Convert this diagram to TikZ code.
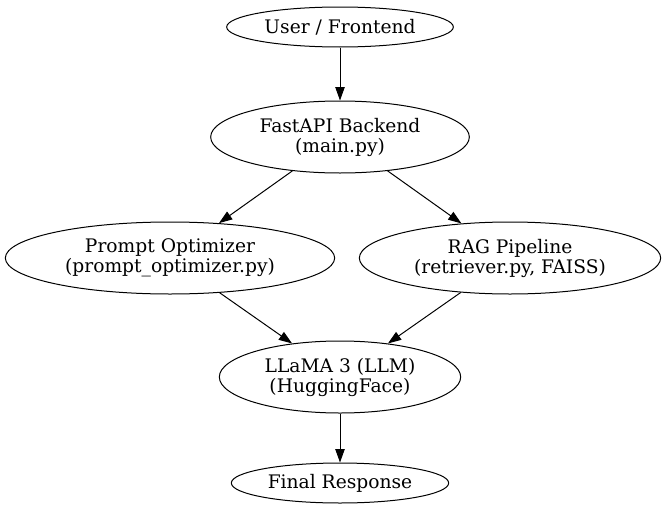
\documentclass[tikz,border=0pt]{standalone}
\usepackage{fontspec}
\setmainfont{DejaVu Serif}
\usetikzlibrary{shapes.geometric,arrows.meta}

\tikzset{
	part/.style = {draw, ellipse, line width = 0.75pt, inner sep = 0pt, align = center,
		font = \fontsize{14}{15}\selectfont},
	flow/.style = {line width = 0.75pt, -{Triangle[length = 10pt, width = 7pt]}}
}

\begin{document}
\begin{tikzpicture}[x = 0.75pt, y = -0.75pt]
		\useasboundingbox (0, 0) rectangle (667, 514);
		%\draw[gray, dotted] (0, 0) grid[step = 50] (667, 514);
		\node[part, minimum width = 170pt, minimum height = 30pt] (user) at (340, 27) {User / Frontend};
		\node[part, minimum width = 194pt, minimum height = 54pt] (api) at (340, 137) {FastAPI Backend\\(main.py)};
		\node[part, minimum width = 247pt, minimum height = 54pt] (prompt) at (170, 258) {Prompt Optimizer\\(prompt\_optimizer.py)};
		\node[part, minimum width = 226pt, minimum height = 54pt] (rag) at (510, 258) {RAG Pipeline\\(retriever.py, FAISS)};
		\node[part, minimum width = 181pt, minimum height = 54pt] (llm) at (340, 377) {LLaMA 3 (LLM)\\(HuggingFace)};
		\node[part, minimum width = 163pt, minimum height = 30pt] (final) at (340, 483) {Final Response};
		\draw[flow] (user) -- (api);
		\draw[flow] (api) -- (prompt);
		\draw[flow] (api) -- (rag);
		\draw[flow] (prompt) -- (llm);
		\draw[flow] (rag) -- (llm);
		\draw[flow] (llm) -- (final);
	\end{tikzpicture}
\end{document}
